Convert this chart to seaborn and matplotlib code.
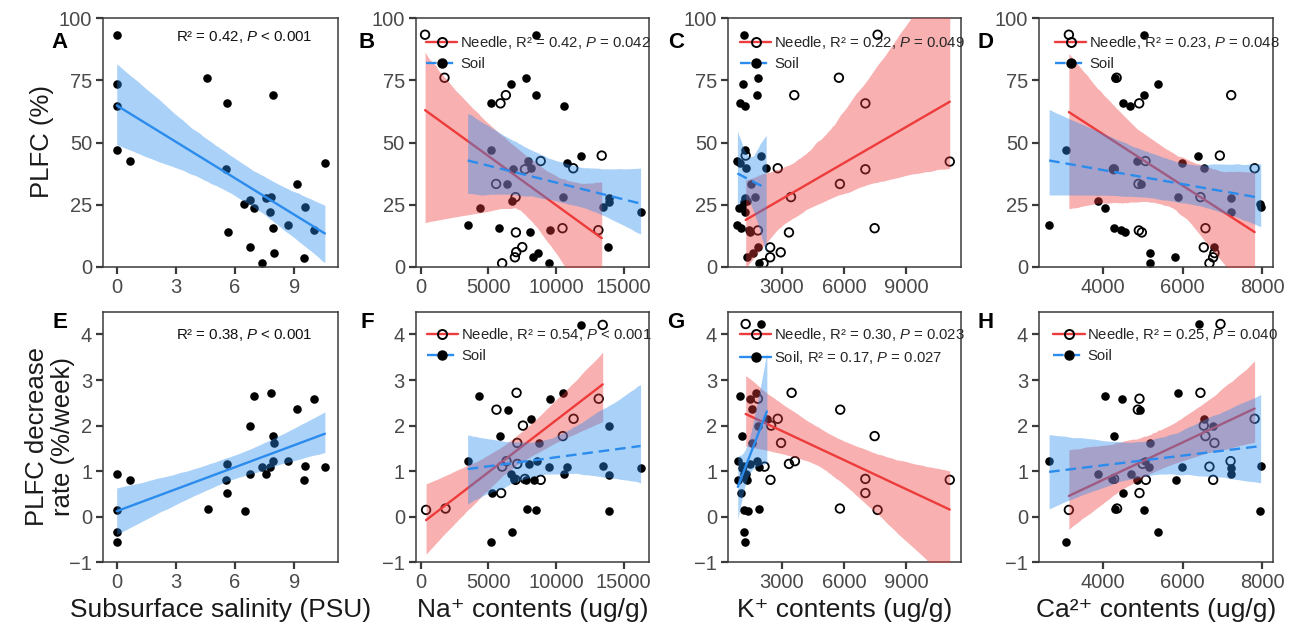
import matplotlib
matplotlib.use("Agg")
import matplotlib.pyplot as plt
from matplotlib.lines import Line2D
import seaborn as sns

# ---------------- data ----------------
# Salinity panels (A, E)
sal_x_a = [0, 0, 0, 0, 0.67, 4.6, 5.6, 5.55, 5.63, 7.9, 6.47, 6.78, 6.97, 6.73, 7.38,
           7.58, 7.83, 7.75, 7.9, 7.97, 8.67, 9.15, 9.53, 9.47, 10.0, 10.55]
plfc_a = [93.3, 73.4, 64.8, 47.2, 42.5, 76.1, 65.8, 39.3, 13.9, 69.1, 25.4, 26.9, 23.7, 7.9, 1.5,
          27.7, 28.2, 22.3, 15.5, 5.7, 17.0, 33.4, 24.1, 3.7, 14.7, 41.8]
sal_x_e = [0, 0.68, 0, 0, 0, 4.63, 5.6, 5.55, 5.6, 6.48, 6.75, 6.97, 6.78, 7.37, 7.57,
           7.75, 7.83, 7.9, 7.97, 7.9, 8.67, 9.15, 9.53, 9.47, 10.0, 10.55]
rate_e = [0.93, 0.81, 0.15, -0.34, -0.56, 0.18, 1.16, 0.81, 0.52, 0.13, 2.0, 2.66, 0.94, 1.10, 0.93,
          1.10, 2.72, 1.77, 1.62, 1.22, 1.23, 2.36, 1.12, 0.81, 2.59, 1.09]

# Na+ panels (B, F)
b_needle_x = [322, 1760, 5900, 6297, 5578, 7016, 7710, 8875, 11280, 10486, 13387, 13139, 7040, 7511, 7065, 6966, 6024]
b_needle_y = [93.4, 76.1, 65.8, 69.1, 33.4, 28.1, 39.3, 42.6, 39.7, 15.6, 44.8, 14.8, 13.9, 8.0, 6.0, 3.9, 1.5]
b_soil_x = [8528, 5231, 6693, 7809, 8528, 10610, 5206, 7908, 8181, 6842, 6371, 6718, 10536, 10784,
            11874, 13461, 13907, 13957, 16262, 4363, 3471, 5826, 8082, 9569, 13882, 8305, 8701, 9470]
b_soil_y = [93.4, 65.8, 73.5, 76.1, 69.1, 64.8, 47.2, 42.6, 39.7, 39.4, 33.4, 26.7, 28.1, 42.0,
            44.8, 24.1, 26.3, 27.7, 22.3, 23.7, 17.0, 15.6, 13.9, 14.7, 7.9, 3.9, 5.6, 1.5]
f_needle_x = [397, 1835, 5950, 5603, 6024, 6346, 7090, 7140, 7140, 7561, 8875, 10511, 11305, 13164, 13461, 7016, 7710]
f_needle_y = [0.15, 0.18, 0.52, 2.35, 1.10, 1.22, 2.72, 1.62, 1.16, 2.0, 0.81, 1.77, 2.15, 2.59, 4.21, 0.81, 0.83]
f_soil_x = [11874, 4338, 6420, 10511, 9594, 8181, 5875, 8751, 3471, 13907, 6693, 6892, 8032, 8577,
            9495, 10784, 10635, 7784, 8379, 5280, 13461, 13957, 16262, 7834, 8528, 13932, 6718, 5206]
f_soil_y = [4.21, 2.66, 2.35, 2.72, 2.59, 2.15, 1.77, 1.62, 1.23, 2.0, 0.94, 0.83, 1.16, 1.22,
            1.10, 1.10, 0.94, 0.81, 0.81, 0.52, 1.12, 0.92, 1.08, 0.18, 0.15, 0.12, -0.34, -0.56]

# K+ panels (C, G)
c_needle_x = [7617, 5754, 3605, 7028, 1266, 2810, 7028, 5802, 3446, 11092, 1855, 3350, 7474, 2444, 2953, 2444, 2125]
c_needle_y = [93.4, 76.1, 69.1, 65.8, 44.8, 39.7, 39.3, 33.4, 28.1, 42.4, 14.7, 13.9, 15.6, 7.9, 5.9, 3.9, 1.5]
c_soil_x = [1172, 1011, 1140, 1839, 1807, 1218, 1218, 868, 1282, 2253, 1537, 1330, 1727, 1000,
            1982, 1100, 1200, 1250, 1250, 932, 868, 1059, 1489, 1409, 1855, 1330, 1616, 1887]
c_soil_y = [93.4, 65.8, 73.5, 76.1, 69.1, 64.8, 47.2, 42.6, 39.7, 39.7, 33.4, 26.7, 28.1, 42.0,
            44.8, 24.1, 26.3, 27.7, 22.3, 23.7, 17.0, 15.6, 13.9, 14.7, 7.9, 3.9, 5.6, 1.5]
g_needle_x = [1266, 1855, 3478, 5818, 2810, 2491, 2969, 7474, 2173, 3350, 3637, 2460, 7028, 7028, 5802, 7617, 11092]
g_needle_y = [4.23, 2.59, 2.72, 2.35, 2.15, 2.0, 1.62, 1.77, 1.10, 1.16, 1.22, 0.81, 0.83, 0.52, 0.18, 0.15, 0.81]
g_soil_x = [2012, 980, 1759, 1489, 1568, 1091, 2285, 1855, 1568, 887, 1123, 1489, 1807, 1887,
            1298, 887, 1346, 1059, 1170, 1377, 1887, 1186, 1250, 1091, 1282, 1200]
g_soil_y = [4.23, 2.66, 2.72, 2.59, 2.37, 1.77, 2.15, 2.0, 1.62, 1.23, 1.12, 1.16, 1.22, 1.10,
            0.94, 0.81, 0.81, 0.52, 0.15, 0.12, 0.18, -0.34, -0.56, 1.06, 0.83, 0.93]

# Ca2+ panels (D, H)
d_needle_x = [3153, 4914, 7220, 5073, 6935, 7807, 4897, 6449, 6575, 4906, 4981, 6533, 6801, 6768, 6675, 4350, 4280]
d_needle_y = [93.4, 65.8, 69.1, 42.6, 44.8, 39.7, 33.4, 28.1, 15.6, 14.7, 13.9, 7.9, 5.6, 3.9, 1.5, 76.1, 39.3]
d_soil_x = [5031, 4503, 5375, 4310, 5040, 4688, 3069, 4855, 6533, 4252, 4950, 3874, 5878, 5987,
            6390, 7960, 7941, 7204, 7212, 4059, 2658, 4285, 4550, 4470, 6801, 5820, 5182, 5182]
d_soil_y = [93.4, 65.8, 73.5, 76.1, 69.1, 64.8, 47.2, 42.6, 39.7, 39.4, 33.4, 26.7, 28.1, 42.0,
            44.8, 24.1, 25.4, 27.7, 22.3, 23.7, 17.0, 15.6, 13.9, 14.7, 7.9, 3.9, 5.6, 1.5]
h_needle_x = [6952, 3153, 4922, 4922, 4881, 6449, 6533, 6575, 6801, 7807, 5000, 5082, 6675, 7204, 6768, 4360, 4285]
h_needle_y = [4.23, 0.15, 0.52, 2.59, 2.35, 2.72, 2.0, 1.77, 1.62, 2.15, 1.16, 0.81, 1.10, 1.22, 0.81, 0.18, 0.83]
h_soil_x = [6407, 2658, 4067, 4486, 4294, 4931, 5887, 6541, 6768, 5191, 3883, 4704, 4243, 4872,
            5065, 5166, 5988, 5828, 4512, 4310, 5031, 7204, 7204, 7941, 3086, 5392, 7958]
h_soil_y = [4.23, 1.23, 2.66, 2.59, 1.77, 2.35, 2.72, 2.15, 2.0, 1.62, 0.93, 0.93, 0.83, 0.81,
            1.23, 1.10, 1.10, 0.81, 0.52, 0.18, 0.15, 1.08, 0.93, 0.12, -0.56, -0.34, 1.12]

# tick positions and labels
sal_ticks = [0, 3, 6, 9]
na_ticks = [0, 5000, 10000, 15000]
k_ticks = [3000, 6000, 9000]
ca_ticks = [4000, 6000, 8000]
plfc_ticks = [0, 25, 50, 75, 100]
rate_ticks = [-1, 0, 1, 2, 3, 4]

panel_letters = ["A", "B", "C", "D", "E", "F", "G", "H"]
x_labels = ["Subsurface salinity (PSU)", "Na⁺ contents (ug/g)",
            "K⁺ contents (ug/g)", "Ca²⁺ contents (ug/g)"]
stats_a = "R² = 0.42, $P$ < 0.001"
stats_e = "R² = 0.38, $P$ < 0.001"
needle_labels = ["Needle, R² = 0.42, $P$ = 0.042", "Needle, R² = 0.22, $P$ = 0.049",
                 "Needle, R² = 0.23, $P$ = 0.048", "Needle, R² = 0.54, $P$ < 0.001",
                 "Needle, R² = 0.30, $P$ = 0.023", "Needle, R² = 0.25, $P$ = 0.040"]
soil_labels = ["Soil", "Soil", "Soil", "Soil", "Soil, R² = 0.17, $P$ = 0.027", "Soil"]

# ---------------- style ----------------
sns.set_theme(style="ticks")
plt.rcParams["font.family"] = ["Liberation Sans", "DejaVu Sans"]
plt.rcParams["mathtext.fontset"] = "custom"
plt.rcParams["mathtext.rm"] = "Liberation Sans"
plt.rcParams["mathtext.it"] = "Liberation Sans:italic"
plt.rcParams["mathtext.bf"] = "Liberation Sans:bold"

RED = "#EE3B3B"
BLUE = "#2B8CEE"
SPINE = "#3a3a3a"
DASH = (0, (4.5, 2.5))

W, H = 1300, 632
fig = plt.figure(figsize=(W / 100, H / 100), dpi=100)
fig.patch.set_facecolor("white")

col_px = [(103.3, 338.3), (416.0, 649.3), (728.3, 961.0), (1039.3, 1272.7)]
row_px = [(18.3, 267.0), (311.7, 562.3)]


def make_axes(col, row):
    l, r = col_px[col]
    t, b = row_px[row]
    return fig.add_axes([l / W, 1 - b / H, (r - l) / W, (b - t) / H])


def dots(ax, x, y, hollow):
    if hollow:
        kws = dict(facecolors="none", edgecolors="black", linewidths=1.3, s=38, alpha=1, zorder=1)
    else:
        kws = dict(linewidths=0, s=38, alpha=1, zorder=1)
    sns.regplot(x=x, y=y, ax=ax, fit_reg=False, color="black", scatter_kws=kws)


def fit(ax, x, y, color, ls, z_line, z_band):
    sns.regplot(x=x, y=y, ax=ax, scatter=False, color=color, seed=3,
                line_kws=dict(lw=1.7, ls=ls, zorder=z_line))
    band = ax.collections[-1]
    band.set_alpha(0.4)
    band.set_zorder(z_band)
    band.set_linewidth(0)


def style(ax, xlim, ylim, xticks, yticks):
    ax.set_xlim(xlim)
    ax.set_ylim(ylim)
    ax.set_xticks(xticks)
    ax.set_yticks(yticks)
    ax.set_facecolor("white")
    for sp in ax.spines.values():
        sp.set_visible(True)
        sp.set_color(SPINE)
        sp.set_linewidth(1.1)
    ax.tick_params(direction="out", length=5, width=1.6, color=SPINE,
                   labelsize=14.5, labelcolor="#4a4a4a", pad=3)
    ax.set_xlabel("")
    ax.set_ylabel("")


xlims = [(-0.68, 11.23), (-348, 16907), (429, 11633), (2412, 8260)]
xticks = [sal_ticks, na_ticks, k_ticks, ca_ticks]
ylims = [(0, 100), (-1, 4.5)]
yticks = [plfc_ticks, rate_ticks]

needle_sets = [(b_needle_x, b_needle_y), (c_needle_x, c_needle_y), (d_needle_x, d_needle_y),
               (f_needle_x, f_needle_y), (g_needle_x, g_needle_y), (h_needle_x, h_needle_y)]
soil_sets = [(b_soil_x, b_soil_y), (c_soil_x, c_soil_y), (d_soil_x, d_soil_y),
             (f_soil_x, f_soil_y), (g_soil_x, g_soil_y), (h_soil_x, h_soil_y)]
legend_x = [0.043, 0.05, 0.068, 0.046, 0.05, 0.06]

k = 0
for row in range(2):
    for col in range(4):
        ax = make_axes(col, row)
        if col == 0:
            sx, sy = (sal_x_a, plfc_a) if row == 0 else (sal_x_e, rate_e)
            dots(ax, sx, sy, hollow=False)
            fit(ax, sx, sy, BLUE, "-", 2, 3)
            ax.text(0.31, 0.923 if row == 0 else 0.908, stats_a if row == 0 else stats_e,
                    transform=ax.transAxes, ha="left", va="center", fontsize=10.8, color="#111111")
        else:
            nx, ny = needle_sets[k]
            sx, sy = soil_sets[k]
            dots(ax, sx, sy, hollow=False)
            dots(ax, nx, ny, hollow=True)
            fit(ax, nx, ny, RED, "-", 2, 3)
            soil_ls = "-" if k == 4 else DASH
            fit(ax, sx, sy, BLUE, soil_ls, 5, 4)
            handles = [
                Line2D([], [], color=RED, lw=1.7, marker="o", ms=6.5, mfc="none", mec="black", mew=1.4),
                Line2D([], [], color=BLUE, lw=1.7, ls=soil_ls, marker="o", ms=6.5, mfc="black", mec="black"),
            ]
            top = 0.935 if row == 0 else 0.942
            ax.legend(handles, [needle_labels[k], soil_labels[k]], loc="upper left",
                      bbox_to_anchor=(legend_x[k], top), frameon=False, fontsize=10.7,
                      handlelength=2.1, handletextpad=0.2, labelspacing=0.4,
                      borderpad=0, borderaxespad=0)
            k += 1
        style(ax, xlims[col], ylims[row], xticks[col], yticks[row])
        if row == 1:
            ax.set_xlabel(x_labels[col], fontsize=19, color="#1a1a1a", labelpad=4)

# panel letters
letter_px = [(60, 42), (367, 42), (676, 42), (986, 42), (60, 323), (367, 323), (676, 323), (986, 323)]
for letter, (px, py) in zip(panel_letters, letter_px):
    fig.text(px / W, 1 - py / H, letter, fontsize=16, fontweight="bold",
             ha="center", va="center", color="black")

# row titles
fig.text(42 / W, 1 - 142 / H, "PLFC (%)", rotation=90, ha="center", va="center",
         fontsize=18.5, color="#1a1a1a")
fig.text(50 / W, 1 - 437 / H, "PLFC decrease\nrate (%/week)", rotation=90, ha="center",
         va="center", fontsize=18.5, color="#1a1a1a", linespacing=1.15)

fig.savefig("out.png", dpi=100, facecolor="white")
